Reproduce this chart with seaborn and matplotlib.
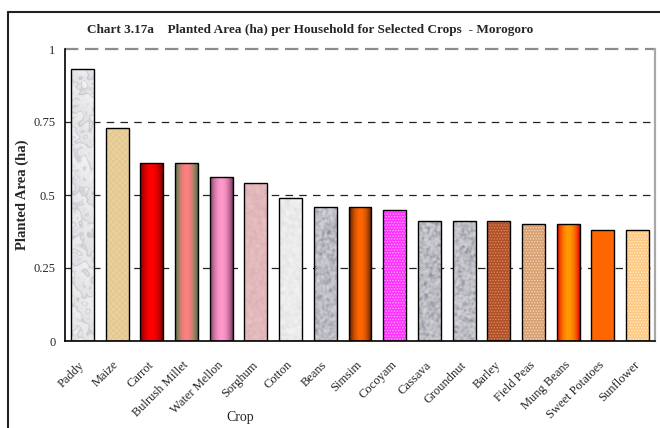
import numpy as np
import matplotlib
matplotlib.use("Agg")
import matplotlib.pyplot as plt
from matplotlib.lines import Line2D
from matplotlib.patches import Rectangle
from matplotlib.colors import to_rgb
import seaborn as sns

# Planted area per household (ha), Morogoro region
crops = ["Paddy", "Maize", "Carrot", "Bulrush Millet", "Water Mellon", "Sorghum",
         "Cotton", "Beans", "Simsim", "Cocoyam", "Cassava", "Groundnut", "Barley",
         "Field Peas", "Mung Beans", "Sweet Potatoes", "Sunflower"]
area = [0.93, 0.73, 0.61, 0.61, 0.56, 0.54, 0.49, 0.46, 0.46, 0.45,
        0.41, 0.41, 0.41, 0.40, 0.40, 0.38, 0.38]
y_ticks = [0, 0.25, 0.5, 0.75, 1]
y_tick_labels = ["0", "0.25", "0.5", "0.75", "1"]

# Fill style for each bar: (kind, colour A, colour B)
fills = {
    "Paddy":          ("marble", "#f3f3f5", "#c4c4ca"),
    "Maize":          ("weave",  "#ecd4a0", "#dcc088"),
    "Carrot":         ("grad",   "#7a0000", "#ff0000"),
    "Bulrush Millet": ("grad",   "#3c7a44", "#ff8080"),
    "Water Mellon":   ("grad",   "#7a3a62", "#ff99cc"),
    "Sorghum":        ("mottle", "#e9c4c6", "#dcaeb2"),
    "Cotton":         ("mottle", "#f6f6f6", "#e0e0e0"),
    "Beans":          ("granite", "#d4d4da", "#8a8a94"),
    "Simsim":         ("grad",   "#4a1800", "#ff6600"),
    "Cocoyam":        ("dots",   "#ff33ff", "#ffaaff"),
    "Cassava":        ("granite", "#d4d4da", "#8a8a94"),
    "Groundnut":      ("granite", "#d4d4da", "#8a8a94"),
    "Barley":         ("dots",   "#b0502a", "#e09060"),
    "Field Peas":     ("dots",   "#d8a070", "#f6dcc4"),
    "Mung Beans":     ("grad",   "#e80000", "#ff9900"),
    "Sweet Potatoes": ("solid",  "#ff6600", "#ff6600"),
    "Sunflower":      ("dots",   "#ffc880", "#fff0d8"),
}

sns.set_style("white")
plt.rcParams["font.family"] = ["Liberation Serif", "DejaVu Serif"]
plt.rcParams["hatch.linewidth"] = 0.6

fig = plt.figure(figsize=(6.6, 4.28), dpi=100)
ax = fig.add_axes([65 / 660, 1 - 341 / 428, 590 / 660, 292 / 428])

base = {c: fills[c][2] if fills[c][0] == "grad" else fills[c][1] for c in crops}
sns.barplot(x=crops, y=area, hue=crops, palette=base, legend=False,
            width=0.66, edgecolor="black", linewidth=1.0, saturation=1, ax=ax)

rng = np.random.default_rng(7)


def smooth(a, k):
    out = a.copy()
    for _ in range(k):
        out = (out + np.roll(out, 1, 0) + np.roll(out, -1, 0)
               + np.roll(out, 1, 1) + np.roll(out, -1, 1)) / 5
    return out


def texture(kind, ca, cb, h, w):
    a, b = np.array(to_rgb(ca)), np.array(to_rgb(cb))
    if kind == "grad":
        t = np.linspace(0, 1, w)
        m = np.sin(np.pi * t) ** 0.8
        row = a[None, :] + (b - a)[None, :] * m[:, None]
        return np.repeat(row[None, :, :], h, axis=0)
    if kind == "weave":
        yy, xx = np.mgrid[0:h, 0:w]
        m = (((yy // 3) % 2) ^ ((xx // 3) % 2)).astype(float) * 0.4
        m += 0.3 * smooth(rng.random((h, w)), 3)
    elif kind == "marble":
        n = smooth(rng.random((h, w)), 8)
        n = (n - n.min()) / (np.ptp(n) + 1e-9)
        yy, xx = np.mgrid[0:h, 0:w]
        streak = 0.5 + 0.5 * np.sin((xx + yy) * 0.25 + n * 10)
        m = 0.55 * streak ** 4 + 0.45 * n
    else:
        n = smooth(rng.random((h, w)), 2 if kind == "granite" else 3)
        n = (n - n.min()) / (np.ptp(n) + 1e-9)
        m = n ** (1.6 if kind == "granite" else 1.0)
    m = np.clip(m, 0, 1)
    return a[None, None, :] * (1 - m[..., None]) + b[None, None, :] * m[..., None]


for crop, patch in zip(crops, ax.patches):
    kind, ca, cb = fills[crop]
    x0, y0 = patch.get_x(), patch.get_y()
    w, h = patch.get_width(), patch.get_height()
    if kind == "solid":
        continue
    patch.set_facecolor("none")
    patch.set_zorder(1)
    if kind == "dots":
        # fine dot screen over the base colour
        ax.add_patch(Rectangle((x0, y0), w, h, facecolor=ca, edgecolor=cb,
                               lw=0, hatch="......", zorder=0.9))
        continue
    hp = max(int(round(h * 292)), 2)
    img = texture(kind, ca, cb, hp, 23)
    im = ax.imshow(img, extent=(x0, x0 + w, y0, y0 + h), aspect="auto",
                   interpolation="bilinear", origin="lower", zorder=0.8)
    im.set_clip_path(patch)

ax.set_xlim(-0.5, len(crops) - 0.5)
ax.set_ylim(0, 1)

# dashed reference lines
ax.grid(False)
for yv in y_ticks[1:-1]:
    ax.axhline(yv, color="#222222", lw=0.9, ls=(0, (6, 5)), zorder=0.5)
ax.axhline(1, color="#8c8c8c", lw=1.6, ls=(0, (6, 3)), zorder=0.5, clip_on=False)

for side in ("left", "bottom"):
    ax.spines[side].set_color("black")
    ax.spines[side].set_linewidth(1.2)
ax.spines["top"].set_visible(False)
ax.spines["right"].set_color("#a8a8a8")
ax.spines["right"].set_linewidth(1.6)

ax.set_yticks(y_ticks)
ax.set_yticklabels(y_tick_labels, fontsize=9)
ax.tick_params(axis="y", direction="out", length=4, width=1, color="black", pad=3)

ax.set_xticks(range(len(crops)))
ax.set_xticks(np.arange(-0.5, len(crops), 1.0), minor=True)
ax.set_xticklabels(crops, rotation=45, ha="right", va="center",
                   rotation_mode="anchor", fontsize=9)
ax.tick_params(axis="x", which="major", length=0, pad=16)
ax.tick_params(axis="x", which="minor", direction="inout", length=9, width=1,
               color="black")

ax.set_ylabel("Planted Area (ha)", fontsize=10.5, fontweight="bold")
ax.yaxis.set_label_coords(-36 / 590, 0.5)
ax.set_xlabel("Crop", fontsize=10)
ax.xaxis.set_label_coords(175 / 590, -70 / 292)

fig.text(310 / 660, 1 - 30 / 428,
         "Chart 3.17a    Planted Area (ha) per Household for Selected Crops  - Morogoro",
         ha="center", va="center", fontsize=9.5, fontweight="bold")

# outer chart frame (left and top edges)
fig.add_artist(Line2D([8 / 660, 8 / 660], [0, 1 - 12 / 428],
                      transform=fig.transFigure, color="#222222", lw=1.5))
fig.add_artist(Line2D([8 / 660, 1], [1 - 12 / 428, 1 - 12 / 428],
                      transform=fig.transFigure, color="#222222", lw=1.5))

fig.savefig("out.png", dpi=100)
